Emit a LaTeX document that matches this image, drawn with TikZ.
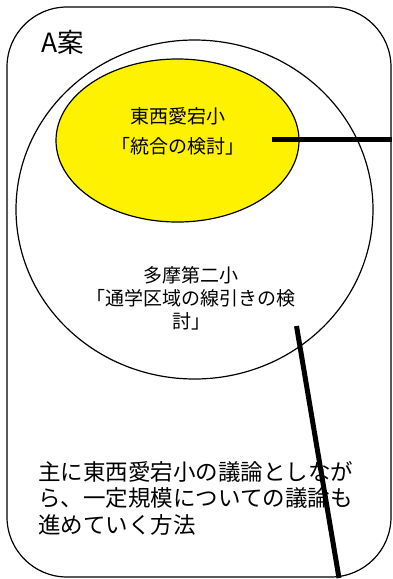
\documentclass[tikz,border=0pt]{standalone}
\usepackage{fontspec}
\setmainfont{Noto Sans CJK JP}
\usetikzlibrary{shapes.geometric}

\begin{document}
\begin{tikzpicture}[x=1pt,y=-1pt,
  outline/.style={draw,line width=1.2pt,inner sep=0pt},
  pointer/.style={line width=5pt}]
\useasboundingbox (0,0) rectangle (393,579);
\node[outline,rounded corners=60pt,minimum width=384pt,minimum height=570pt] (frame) at (199,292) {};
\node[outline,ellipse,minimum width=357pt,minimum height=339pt] (tama) at (194.5,209.5) {};
\node[outline,ellipse,fill=yellow,minimum width=243pt,minimum height=163pt] (atago) at (177.5,140.5) {};
\node[font=\fontsize{26.5}{30}\selectfont,anchor=west,inner sep=0pt] (title) at (41,42) {A案};
\node[font=\fontsize{19}{30}\selectfont,align=center] (atagolabel) at (177.5,131) {東西愛宕小\\「統合の検討」};
\node[font=\fontsize{19}{23}\selectfont,align=center] (tamalabel) at (191,298) {多摩第二小\\「通学区域の線引きの検\\討」};
\node[font=\fontsize{22.5}{26.5}\selectfont,align=left,anchor=west,inner sep=0pt] (note) at (38,498) {主に東西愛宕小の議論としなが\\ら、一定規模についての議論も\\進めていく方法};
\coordinate (p1) at (272,139);
\coordinate (p2) at (296.5,326);
\coordinate (q2) at (339,578);
\draw[pointer] (p1) -- (p1 -| frame.east);
\draw[pointer] (p2) -- (q2);
\end{tikzpicture}
\end{document}
